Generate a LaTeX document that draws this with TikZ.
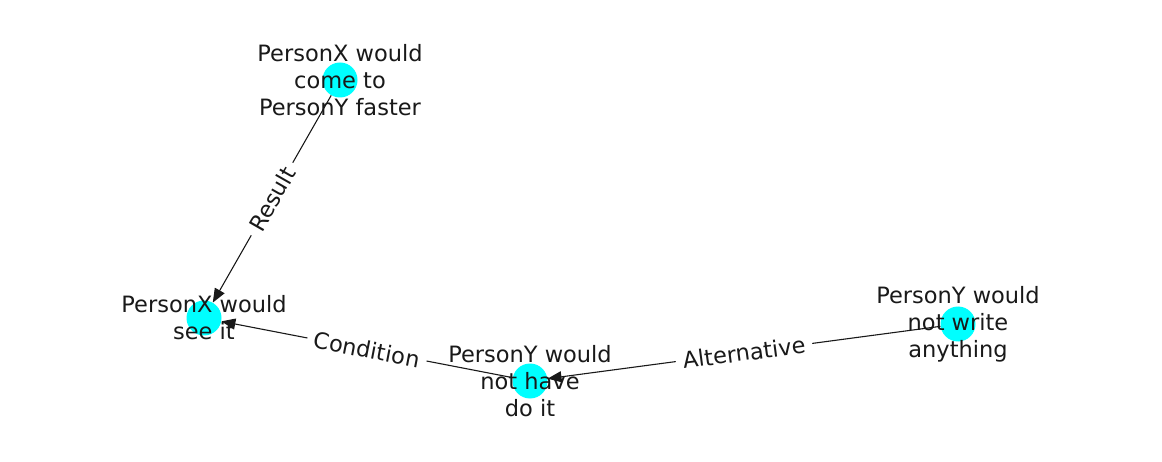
\documentclass[tikz,border=0pt]{standalone}
\usepackage{fontspec}
\setmainfont{DejaVu Sans}
\usetikzlibrary{arrows.meta}
\definecolor{nodecyan}{RGB}{0,255,255}
\begin{document}
\begin{tikzpicture}[x=1pt, y=-1pt,
  dot/.style={circle, fill=nodecyan, draw=none, minimum size=35pt, inner sep=0pt},
  txt/.style={align=center, inner sep=0pt, font=\fontsize{22.5}{27}\selectfont, text=black!90},
  rel/.style={-{Triangle[length=14pt,width=11pt]}, line width=1.1pt, black!90},
  lab/.style={fill=white, inner xsep=7pt, inner ysep=3pt, sloped, midway, font=\fontsize{22.5}{27}\selectfont, text=black!90}]
\useasboundingbox (0,0) rectangle (1162,462);
% nodes
\node[dot] (faster) at (340,80) {};
\node[dot] (see) at (204,318) {};
\node[dot] (have) at (530,381) {};
\node[dot] (write) at (958,324) {};
% edges
\draw[rel] (faster) -- (see) node[lab] {Result};
\draw[rel] (have) -- (see) node[lab] {Condition};
\draw[rel] (write) -- (have) node[lab] {Alternative};
% texts
\node[txt] (faster-t) at (faster) {PersonX would\\come to\\PersonY faster};
\node[txt] (see-t) at (see) {PersonX would\\see it};
\node[txt] (have-t) at (have) {PersonY would\\not have\\do it};
\node[txt] (write-t) at (write) {PersonY would\\not write\\anything};
\end{tikzpicture}
\end{document}
